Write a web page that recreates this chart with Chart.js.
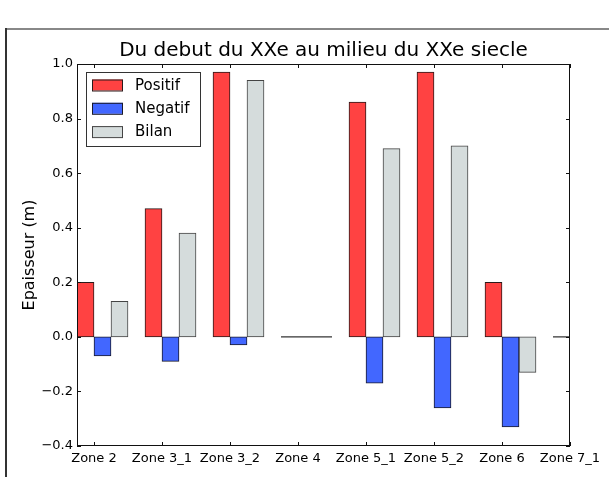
<!DOCTYPE html>
<html>
<head>
<meta charset="utf-8">
<title>Epaisseur par zone</title>
<script src="https://cdn.jsdelivr.net/npm/chart.js@4.4.1/dist/chart.umd.min.js"></script>
<style>
  html, body { margin: 0; padding: 0; background: #fff; }
  canvas { display: block; }
</style>
</head>
<body>
<canvas id="zoneChart" width="609" height="477"></canvas>
<script>
// Zones and thickness changes (m)
const zones = ['Zone 2', 'Zone 3_1', 'Zone 3_2', 'Zone 4', 'Zone 5_1', 'Zone 5_2', 'Zone 6', 'Zone 7_1'];
const positif = [0.20, 0.47, 0.97, 0, 0.86, 0.97, 0.20, 0];
const negatif = [-0.07, -0.09, -0.03, 0, -0.17, -0.26, -0.33, 0];
const bilan = [0.13, 0.38, 0.94, 0, 0.69, 0.70, -0.13, 0];
const yTicks = [-0.4, -0.2, 0, 0.2, 0.4, 0.6, 0.8, 1.0];

// each zone gets three bars of this width, side by side, starting at its index
const BAR_W = 0.25;

Chart.defaults.font.family = "'DejaVu Sans', sans-serif";
Chart.defaults.color = '#000';

function toPoints(values, slot) {
  return values.map((v, i) => ({ x: i + BAR_W * slot + BAR_W / 2, y: v }));
}

function fmtTick(v) {
  if (Math.abs(v) < 1e-9) v = 0;
  return v.toFixed(1).replace('-', '\u2212');
}

// outer figure frame (top and left edges)
const figureFrame = {
  id: 'figureFrame',
  beforeDraw(chart) {
    const ctx = chart.ctx;
    ctx.save();
    ctx.lineWidth = 2;
    ctx.strokeStyle = '#888';
    ctx.beginPath();
    ctx.moveTo(5, 29);
    ctx.lineTo(chart.width, 29);
    ctx.stroke();
    ctx.strokeStyle = '#333';
    ctx.beginPath();
    ctx.moveTo(6, 28);
    ctx.lineTo(6, chart.height);
    ctx.stroke();
    ctx.restore();
  }
};

// keep the title centred over the plot area rather than the whole canvas
const centreTitle = {
  id: 'centreTitle',
  afterLayout(chart) {
    const tb = chart.titleBlock;
    if (!tb) return;
    tb.left = chart.chartArea.left;
    tb.right = chart.chartArea.right;
    tb.width = tb.right - tb.left;
  }
};

// zero-height bars show up as a flat line on the baseline
const zeroBars = {
  id: 'zeroBars',
  afterDatasetsDraw(chart) {
    const ctx = chart.ctx;
    const { left, right } = chart.chartArea;
    ctx.save();
    ctx.lineWidth = 1.5;
    ctx.strokeStyle = '#555';
    chart.data.datasets.forEach((ds, di) => {
      const meta = chart.getDatasetMeta(di);
      meta.data.forEach((bar, i) => {
        if (ds.data[i].y !== 0) return;
        const x0 = Math.max(left, bar.x - bar.width / 2);
        const x1 = Math.min(right, bar.x + bar.width / 2);
        if (x1 <= x0) return;
        ctx.beginPath();
        ctx.moveTo(x0, bar.y);
        ctx.lineTo(x1, bar.y);
        ctx.stroke();
      });
    });
    ctx.restore();
  }
};

// axes box with inward ticks on all four sides
const axesBox = {
  id: 'axesBox',
  afterDatasetsDraw(chart) {
    const ctx = chart.ctx;
    const { left, right, top, bottom } = chart.chartArea;
    const xs = chart.scales.x, ys = chart.scales.y;
    ctx.save();
    ctx.strokeStyle = '#111';
    ctx.lineWidth = 1;
    ctx.strokeRect(left + 0.5, top + 0.5, right - left - 1, bottom - top - 1);
    ctx.beginPath();
    xs.ticks.forEach(t => {
      const px = Math.round(xs.getPixelForValue(t.value)) + 0.5;
      ctx.moveTo(px, bottom); ctx.lineTo(px, bottom - 4);
      ctx.moveTo(px, top); ctx.lineTo(px, top + 4);
    });
    ys.ticks.forEach(t => {
      const py = Math.round(ys.getPixelForValue(t.value)) + 0.5;
      ctx.moveTo(left, py); ctx.lineTo(left + 4, py);
      ctx.moveTo(right, py); ctx.lineTo(right - 4, py);
    });
    ctx.stroke();
    ctx.restore();
  }
};

// boxed legend in the upper left corner of the plot
const boxLegend = {
  id: 'boxLegend',
  afterDraw(chart) {
    const ctx = chart.ctx;
    const { left, top } = chart.chartArea;
    const bx = left + 9, by = top + 8, bw = 114, bh = 74;
    ctx.save();
    ctx.fillStyle = '#fff';
    ctx.fillRect(bx, by, bw, bh);
    ctx.strokeStyle = '#333';
    ctx.lineWidth = 1;
    ctx.strokeRect(bx + 0.5, by + 0.5, bw, bh);
    ctx.font = "15px 'DejaVu Sans', sans-serif";
    ctx.textBaseline = 'middle';
    chart.data.datasets.forEach((ds, i) => {
      const cy = by + 13 + i * 23.3;
      ctx.fillStyle = ds.backgroundColor;
      ctx.fillRect(bx + 6, cy - 5.5, 31, 11);
      ctx.strokeStyle = ds.borderColor;
      ctx.strokeRect(bx + 6.5, cy - 5, 30, 11);
      ctx.fillStyle = '#000';
      ctx.fillText(ds.label, bx + 49, cy + 1);
    });
    ctx.restore();
  }
};

function initZoneChart() {
  const ctx = document.getElementById('zoneChart').getContext('2d');
  const barStyle = {
    borderWidth: 1,
    borderSkipped: false,
    categoryPercentage: 1,
    barPercentage: 1
  };

  new Chart(ctx, {
    type: 'bar',
    data: {
      datasets: [
        { label: 'Positif', data: toPoints(positif, 0), backgroundColor: '#FF4242', borderColor: '#2a1a1a', ...barStyle },
        { label: 'Negatif', data: toPoints(negatif, 1), backgroundColor: '#4267FF', borderColor: '#1a1a2a', ...barStyle },
        { label: 'Bilan', data: toPoints(bilan, 2), backgroundColor: '#D5DCDC', borderColor: '#444', ...barStyle }
      ]
    },
    options: {
      responsive: false,
      animation: false,
      devicePixelRatio: 1,
      layout: { padding: { left: 0, right: 39, top: 0, bottom: 0 } },
      plugins: {
        legend: { display: false },
        tooltip: { enabled: false },
        title: {
          display: true,
          text: 'Du debut du XXe au milieu du XXe siecle',
          color: '#000',
          font: { size: 20, weight: 'normal' },
          padding: { top: 39, bottom: 1 }
        }
      },
      scales: {
        x: {
          type: 'linear',
          stacked: true,
          offset: false,
          min: 0,
          max: zones.length - 1 + BAR_W,
          grid: { display: false, drawTicks: false },
          border: { display: false },
          afterBuildTicks: (scale) => {
            scale.ticks = zones.map((z, i) => ({ value: i + BAR_W }));
          },
          afterFit: (scale) => { scale.height = 31; },
          ticks: {
            autoSkip: false,
            maxRotation: 0,
            padding: 5,
            font: { size: 13 },
            callback: (value, index) => zones[index]
          }
        },
        y: {
          stacked: true,
          min: yTicks[0],
          max: yTicks[yTicks.length - 1],
          grid: { display: false, drawTicks: false },
          border: { display: false },
          afterBuildTicks: (scale) => {
            scale.ticks = yTicks.map(v => ({ value: v }));
          },
          afterFit: (scale) => { scale.width = 77; },
          ticks: {
            padding: 4,
            font: { size: 13 },
            callback: (value) => fmtTick(value)
          },
          title: {
            display: true,
            text: 'Epaisseur (m)',
            color: '#000',
            font: { size: 16 },
            padding: { top: 20, bottom: 0 }
          }
        }
      }
    },
    plugins: [figureFrame, centreTitle, zeroBars, axesBox, boxLegend]
  });
}

document.addEventListener('DOMContentLoaded', initZoneChart);
</script>
</body>
</html>
